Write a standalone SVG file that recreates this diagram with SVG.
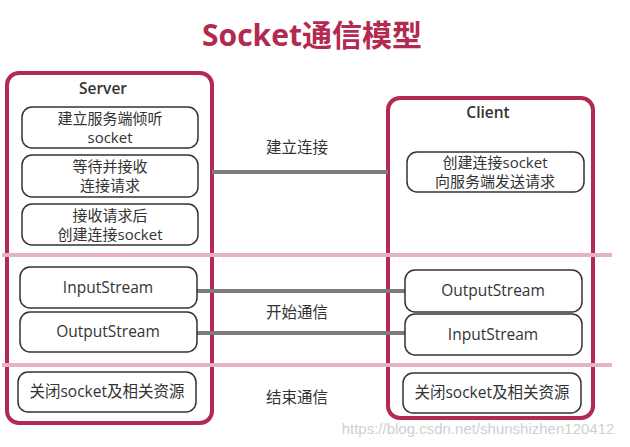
<svg xmlns="http://www.w3.org/2000/svg" width="630" height="447" viewBox="0 0 630 447">
<style>
text{font-family:"Open Sans","Noto Sans CJK SC",sans-serif;fill:#333;text-anchor:middle}
.outer{fill:#fff;stroke:#b3294f;stroke-width:4}
.box{fill:#fff;stroke:#333;stroke-width:1.5}
.t{font-size:15.5px}
.t2{font-size:15px}
.hd{font-size:15.5px;font-weight:600}
.sep{stroke:#e6b3c2;stroke-width:4}
.con{stroke:#7d7d7d;stroke-width:4}
.lbl{font-size:15.5px}
</style>
<rect width="630" height="447" fill="#fff"/>
<text x="312" y="46" style="font-size:30px;font-weight:700;fill:#b3294f">Socket通信模型</text>
<g id="server">
<rect class="outer" x="7" y="73" width="205" height="350" rx="12"/>
<text class="hd" x="103" y="94">Server</text>
</g>
<g id="client">
<rect class="outer" x="388" y="98" width="205" height="320" rx="12"/>
<text class="hd" x="488" y="118">Client</text>
</g>
<g id="separators">
<line class="sep" x1="2" y1="255" x2="612" y2="255"/>
<line class="sep" x1="2" y1="365" x2="612" y2="365"/>
</g>
<g id="connectors">
<line class="con" x1="212" y1="172" x2="388" y2="172"/>
<line class="con" x1="197" y1="291" x2="405" y2="291"/>
<line class="con" x1="197" y1="333" x2="405" y2="333"/>
</g>
<g id="s1"><rect class="box" x="22" y="107" width="176" height="41" rx="10"/><text class="t2" x="110" y="124">建立服务端倾听</text><text class="t2" x="110" y="143">socket</text></g>
<g id="s2"><rect class="box" x="22" y="155" width="176" height="42" rx="10"/><text class="t2" x="110" y="172">等待并接收</text><text class="t2" x="110" y="191">连接请求</text></g>
<g id="s3"><rect class="box" x="22" y="204" width="176" height="41" rx="10"/><text class="t2" x="110" y="221">接收请求后</text><text class="t2" x="110" y="240">创建连接socket</text></g>
<g id="s4"><rect class="box" x="20" y="267" width="177" height="41" rx="10"/><text class="t" x="108" y="293">InputStream</text></g>
<g id="s5"><rect class="box" x="20" y="312" width="177" height="40" rx="10"/><text class="t" x="108" y="337">OutputStream</text></g>
<g id="s6"><rect class="box" x="18" y="372" width="178" height="40" rx="10"/><text class="t" x="107" y="397">关闭socket及相关资源</text></g>
<g id="c1"><rect class="box" x="407" y="152" width="177" height="40" rx="10"/><text class="t2" x="495" y="168">创建连接socket</text><text class="t2" x="495" y="187">向服务端发送请求</text></g>
<g id="c2"><rect class="box" x="405" y="270" width="177" height="42" rx="10"/><text class="t" x="493" y="296">OutputStream</text></g>
<g id="c3"><rect class="box" x="405" y="314" width="177" height="41" rx="10"/><text class="t" x="493" y="340">InputStream</text></g>
<g id="c4"><rect class="box" x="403" y="373" width="178" height="40" rx="10"/><text class="t" x="492" y="398">关闭socket及相关资源</text></g>
<text class="lbl" x="297" y="153">建立连接</text>
<text class="lbl" x="297" y="318">开始通信</text>
<text class="lbl" x="297" y="403">结束通信</text>
<text x="478" y="434" style="font-size:15px;fill:#d0d0d0;font-family:'Liberation Sans',sans-serif">https://blog.csdn.net/shunshizhen120412</text>
</svg>
